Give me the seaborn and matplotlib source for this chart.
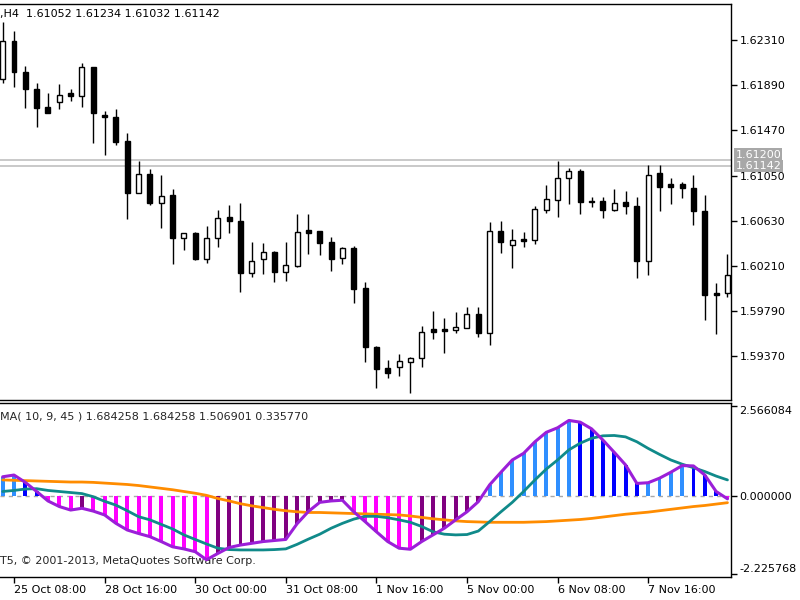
import numpy as np
import matplotlib
matplotlib.use('Agg')
import matplotlib.pyplot as plt
import seaborn as sns

# bar index (H4 bars), -1 is the half-cut candle at the left edge
bars = np.arange(-1, 64)

opens = [1.61945, 1.62303, 1.62016, 1.61858, 1.61685, 1.61734, 1.61820, 1.61790, 1.62056, 1.61616,
         1.61597, 1.61374, 1.60891, 1.61065, 1.60799, 1.60870, 1.60473, 1.60514, 1.60273, 1.60473,
         1.60663, 1.60631, 1.60148, 1.60273, 1.60343, 1.60152, 1.60210, 1.60545, 1.60538, 1.60436,
         1.60282, 1.60380, 1.60003, 1.59461, 1.59260, 1.59269, 1.59321, 1.59353, 1.59622, 1.59622,
         1.59616, 1.59637, 1.59762, 1.59585, 1.60538, 1.60406, 1.60461, 1.60452, 1.60731, 1.60824,
         1.61025, 1.61096, 1.60812, 1.60817, 1.60731, 1.60808, 1.60768, 1.60260, 1.61072, 1.60969,
         1.60969, 1.60938, 1.60724, 1.59962, 1.59957]
highs = [1.62480, 1.62396, 1.62068, 1.61913, 1.61820, 1.61901, 1.61852, 1.62099, 1.62060, 1.61653,
         1.61666, 1.61451, 1.61186, 1.61109, 1.61056, 1.60923, 1.60520, 1.60523, 1.60582, 1.60731,
         1.60777, 1.60793, 1.60436, 1.60421, 1.60352, 1.60436, 1.60691, 1.60691, 1.60540, 1.60477,
         1.60384, 1.60396, 1.60065, 1.59465, 1.59337, 1.59393, 1.59362, 1.59653, 1.59792, 1.59725,
         1.59786, 1.59827, 1.59827, 1.60622, 1.60631, 1.60551, 1.60529, 1.60768, 1.60963, 1.61189,
         1.61118, 1.61109, 1.60854, 1.60854, 1.60923, 1.60910, 1.60854, 1.61149, 1.61149, 1.61025,
         1.60994, 1.61056, 1.60870, 1.60055, 1.60322]
lows = [1.61908, 1.61876, 1.61675, 1.61505, 1.61628, 1.61666, 1.61746, 1.61690, 1.61350, 1.61242,
        1.61335, 1.60644, 1.60885, 1.60774, 1.60561, 1.60229, 1.60359, 1.60268, 1.60241, 1.60390,
        1.60520, 1.59972, 1.60111, 1.60136, 1.60062, 1.60074, 1.60204, 1.60322, 1.60310, 1.60164,
        1.60229, 1.59864, 1.59321, 1.59080, 1.59173, 1.59191, 1.59028, 1.59275, 1.59535, 1.59399,
        1.59585, 1.59632, 1.59548, 1.59477, 1.60334, 1.60189, 1.60390, 1.60412, 1.60706, 1.60663,
        1.60786, 1.60694, 1.60761, 1.60654, 1.60721, 1.60694, 1.60096, 1.60127, 1.60721, 1.60784,
        1.60839, 1.60591, 1.59709, 1.59576, 1.59925]
closes = [1.62303, 1.62010, 1.61852, 1.61681, 1.61630, 1.61802, 1.61790, 1.62056, 1.61629, 1.61592,
          1.61365, 1.60891, 1.61065, 1.60799, 1.60864, 1.60473, 1.60514, 1.60273, 1.60473, 1.60659,
          1.60631, 1.60148, 1.60260, 1.60343, 1.60152, 1.60220, 1.60524, 1.60520, 1.60427, 1.60273,
          1.60380, 1.59994, 1.59455, 1.59252, 1.59214, 1.59328, 1.59353, 1.59600, 1.59597, 1.59609,
          1.59644, 1.59762, 1.59585, 1.60538, 1.60431, 1.60452, 1.60446, 1.60737, 1.60830, 1.61025,
          1.61096, 1.60808, 1.60805, 1.60731, 1.60793, 1.60768, 1.60260, 1.61056, 1.60942, 1.60947,
          1.60932, 1.60721, 1.59941, 1.59941, 1.60127]

# oscillator window
osc_hist = [0.54, 0.59, 0.38, 0.12, -0.15, -0.31, -0.41, -0.36, -0.44, -0.55,
            -0.79, -0.98, -1.08, -1.17, -1.31, -1.46, -1.52, -1.60, -1.83, -1.65,
            -1.48, -1.41, -1.36, -1.31, -1.28, -1.25, -0.80, -0.45, -0.19, -0.15,
            -0.13, -0.46, -0.74, -1.03, -1.31, -1.50, -1.53, -1.31, -1.12, -0.93,
            -0.69, -0.46, -0.17, 0.31, 0.67, 1.02, 1.21, 1.54, 1.81, 1.94,
            2.15, 2.10, 1.91, 1.59, 1.24, 0.88, 0.35, 0.37, 0.50, 0.67,
            0.86, 0.85, 0.59, 0.12, -0.09]
signal_line = [0.12, 0.15, 0.19, 0.20, 0.15, 0.12, 0.09, 0.06, -0.03, -0.16,
               -0.27, -0.43, -0.60, -0.69, -0.82, -0.95, -1.12, -1.25, -1.38, -1.50,
               -1.54, -1.55, -1.55, -1.55, -1.54, -1.52, -1.39, -1.24, -1.10, -0.93,
               -0.79, -0.67, -0.59, -0.59, -0.63, -0.69, -0.76, -0.88, -1.03, -1.10,
               -1.12, -1.11, -1.01, -0.74, -0.46, -0.19, 0.12, 0.45, 0.76, 1.02,
               1.31, 1.50, 1.64, 1.71, 1.72, 1.68, 1.54, 1.35, 1.18, 1.02,
               0.90, 0.80, 0.69, 0.56, 0.45]
slow_line = [0.45, 0.44, 0.43, 0.42, 0.41, 0.40, 0.39, 0.39, 0.38, 0.36,
             0.34, 0.32, 0.29, 0.25, 0.21, 0.17, 0.12, 0.07, 0.01, -0.08,
             -0.15, -0.23, -0.29, -0.34, -0.39, -0.43, -0.46, -0.48, -0.48, -0.49,
             -0.50, -0.51, -0.52, -0.53, -0.54, -0.55, -0.58, -0.62, -0.66, -0.69,
             -0.72, -0.74, -0.75, -0.76, -0.76, -0.76, -0.76, -0.75, -0.74, -0.72,
             -0.70, -0.68, -0.65, -0.61, -0.57, -0.53, -0.50, -0.47, -0.43, -0.39,
             -0.35, -0.31, -0.28, -0.24, -0.20]

date_ticks = [0, 8, 16, 24, 32, 40, 48, 56]
date_labels = ['25 Oct 08:00', '28 Oct 16:00', '30 Oct 00:00', '31 Oct 08:00',
               '1 Nov 16:00', '5 Nov 00:00', '6 Nov 08:00', '7 Nov 16:00']
price_ticks = [1.62310, 1.61890, 1.61470, 1.61050, 1.60630, 1.60210, 1.59790, 1.59370]
osc_ticks = [2.566084, 0.0, -2.225768]
level_lines = [1.61200, 1.61142]

sns.set_theme(style='white')
plt.rcParams['font.family'] = ['DejaVu Sans']

fig = plt.figure(figsize=(8, 6), dpi=100)
ax = fig.add_axes([0, 0.3333, 0.914, 0.66])
ax2 = fig.add_axes([0, 0.03833, 0.914, 0.2892], sharex=ax)

## candles
o, h, l, c = map(np.array, (opens, highs, lows, closes))
up = c >= o
ax.vlines(bars, l, h, color='black', lw=1, zorder=2)
ax.bar(bars, np.maximum(np.abs(c - o), 1e-5), bottom=np.minimum(o, c), width=0.44,
       color=np.where(up, 'white', 'black'), edgecolor='black', linewidth=1, zorder=3)

for lv in level_lines:
    ax.axhline(lv, color='#C0C0C0', lw=1.2, zorder=1)

ax.set_ylim(1.58965, 1.62645)
ax.set_xlim(-1.236, 63.33)
ax.yaxis.tick_right()
ax.set_yticks(price_ticks)
ax.set_yticklabels([f'{p:.5f}' for p in price_ticks])
ax.tick_params(axis='y', right=True, left=False, direction='out', length=4, width=1,
               labelsize=8, pad=2, colors='black')
ax.tick_params(axis='x', bottom=False, labelbottom=False)

# price labels of the two level lines (upper one sits just above the lower one)
for lv, va in zip(level_lines, ['bottom', 'center']):
    ax.text(1.006, lv, f'{lv:.5f}', transform=ax.get_yaxis_transform(), color='white',
            fontsize=8, va=va, ha='left', clip_on=False, zorder=5,
            bbox=dict(boxstyle='square,pad=0.1', fc='#A8A8A8', ec='none'))

fig.text(0.0, 1 - 14 / 600, ',H4  1.61052 1.61234 1.61032 1.61142', fontsize=8,
         va='center', ha='left', color='black')

## oscillator
hist = np.array(osc_hist)
rising = np.diff(hist, prepend=-np.inf) >= 0
pos = hist >= 0
hist_colors = np.select([pos & rising, pos & ~rising, ~pos & ~rising],
                        ['#2F8FFF', '#0000FF', '#FF00FF'], '#800080')

ax2.axhline(0, color='#A8A8A8', lw=1, ls=(0, (3, 3)), zorder=1)
ax2.bar(bars, hist, width=0.35, color=hist_colors, linewidth=0, zorder=2)
sns.lineplot(x=bars, y=slow_line, ax=ax2, color='#FF8C00', lw=2, zorder=4)
sns.lineplot(x=bars, y=signal_line, ax=ax2, color='#108A8A', lw=2, zorder=5)
sns.lineplot(x=bars, y=osc_hist, ax=ax2, color='#9B1FD8', lw=2.2, zorder=6)

ax2.set_ylim(-2.323, 2.634)
ax2.yaxis.tick_right()
ax2.set_yticks(osc_ticks)
ax2.set_yticklabels([f'{v:.6f}' for v in osc_ticks])
ax2.tick_params(axis='y', right=True, left=False, direction='out', length=4, width=1,
                labelsize=8, pad=2, colors='black')
ylabs = ax2.get_yticklabels()
ylabs[0].set_va('top')
ylabs[2].set_va('bottom')

ax2.set_xticks(date_ticks)
ax2.set_xticklabels(date_labels, ha='left')
ax2.tick_params(axis='x', bottom=True, direction='out', length=4, width=1,
                labelsize=8, pad=2, colors='black')

ax2.text(0.0, 2.25, 'MA( 10, 9, 45 ) 1.684258 1.684258 1.506901 0.335770',
         transform=ax2.get_yaxis_transform(), fontsize=8, va='center', ha='left', zorder=0.5)
ax2.text(0.0, -1.87, 'T5, \u00a9 2001-2013, MetaQuotes Software Corp.',
         transform=ax2.get_yaxis_transform(), fontsize=8, va='center', ha='left', zorder=0.5)

for a in (ax, ax2):
    a.set_xlabel('')
    a.set_ylabel('')
    a.spines['left'].set_visible(False)
    for s in ('top', 'bottom', 'right'):
        a.spines[s].set_visible(True)
        a.spines[s].set_color('black')
        a.spines[s].set_linewidth(1)
    a.grid(False)
    a.set_facecolor('white')

fig.savefig('out.png', dpi=100)
